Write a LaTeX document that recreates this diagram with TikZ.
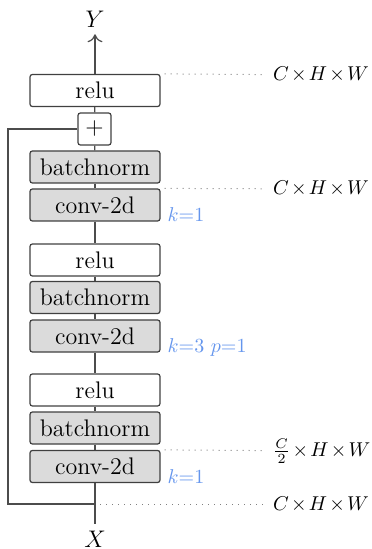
\documentclass[tikz,border=0pt]{standalone}
\usepackage{amsmath}
\usetikzlibrary{arrows.meta}
\definecolor{kblue}{RGB}{100,149,237}
\begin{document}
\begin{tikzpicture}[x=0.5pt,y=-0.5pt,
    layer/.style={draw=black!75,line width=0.6pt,rounded corners=1.2pt,
      minimum width=65pt,minimum height=16pt,inner sep=0pt,font=\large},
    normlayer/.style={layer,fill=black!14},
    sumnode/.style={layer,minimum width=16.5pt},
    dimline/.style={black!50,line width=0.5pt,dash pattern=on 0.5pt off 2.5pt},
    dimlabel/.style={anchor=west,font={\medmuskip=2mu\relax}},
    hyper/.style={anchor=base west,text=kblue},
    wire/.style={black!70,line width=0.6pt}]
      \useasboundingbox (0,0) rectangle (371,549);
      \node[font=\large] (Y) at (95,19) {$Y$};
      \node[layer] (relu1) at (95,90.5) {relu};
      \node[sumnode] (plus) at (94.5,129) {$+$};
      \node[normlayer] (bn1) at (95,167) {batchnorm};
      \node[normlayer] (conv1) at (95,205) {conv-2d};
      \node[layer] (relu2) at (95,260) {relu};
      \node[normlayer] (bn2) at (95,297.5) {batchnorm};
      \node[normlayer] (conv2) at (95,336) {conv-2d};
      \node[layer] (relu3) at (95,390) {relu};
      \node[normlayer] (bn3) at (95,428) {batchnorm};
      \node[normlayer] (conv3) at (95,466.5) {conv-2d};
      \node[font=\large] (X) at (95,539) {$X$};
      \coordinate (split) at (95,504);
      \coordinate (bend) at (8,129);
      % sizes
      \node[dimlabel] (d1) at (266,75) {$C\times H\times W$};
      \node[dimlabel] (d2) at (266,189) {$C\times H\times W$};
      \node[dimlabel] (d3) at (266,451) {$\frac{C}{2}\times H\times W$};
      \node[dimlabel] (d4) at (266,504) {$C\times H\times W$};
      % conv parameters
      \node[hyper] (k1) at (conv1.south east) {$k{=}1$};
      \node[hyper] (k2) at (conv2.south east) {$k{=}3$ $p{=}1$};
      \node[hyper] (k3) at (conv3.south east) {$k{=}1$};
      \begin{scope}[wire]
        \draw[-{To[length=4pt,width=7.5pt]}] (relu1) -- (Y);
        \draw (relu1) -- (plus);
        \draw (plus) -- (bn1);
        \draw (bn1) -- (conv1);
        \draw (conv1) -- (relu2);
        \draw (relu2) -- (bn2);
        \draw (bn2) -- (conv2);
        \draw (conv2) -- (relu3);
        \draw (relu3) -- (bn3);
        \draw (bn3) -- (conv3);
        \draw (conv3) -- (X);
        \draw (split) -| (bend) -- (plus);
      \end{scope}
      \begin{scope}[dimline]
        \draw ([xshift=2pt]relu1.north east) -- (d1);
        \draw ([xshift=2pt]conv1.north east) -- (d2);
        \draw ([xshift=2pt]conv3.north east) -- (d3);
        \draw ([xshift=2.5pt]split) -- (d4);
      \end{scope}
    \end{tikzpicture}
\end{document}
